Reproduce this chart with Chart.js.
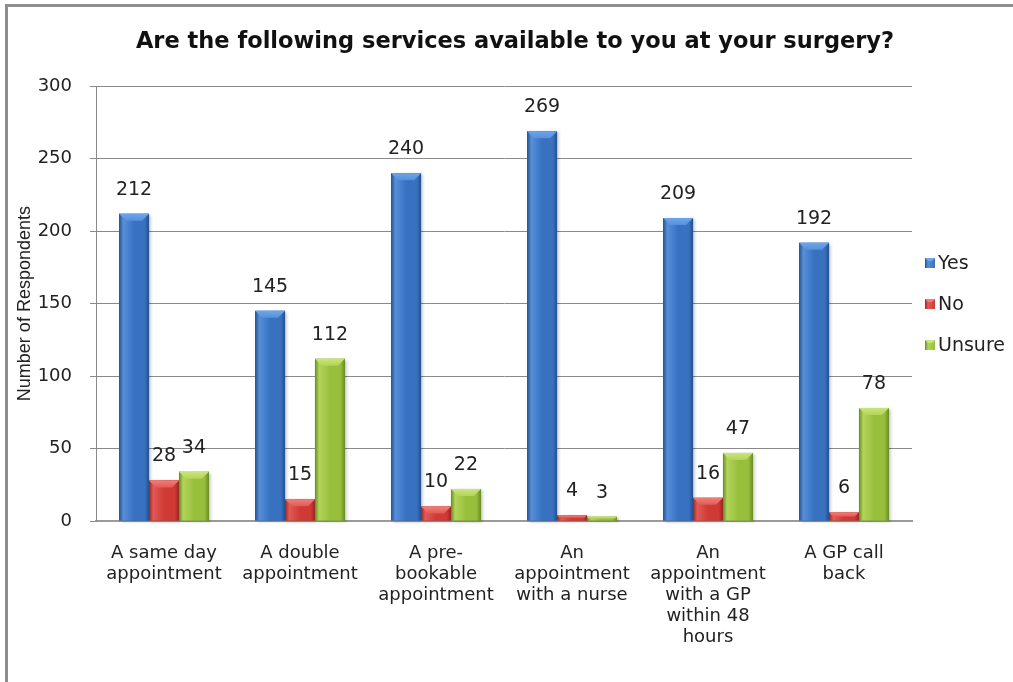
<!DOCTYPE html>
<html>
<head>
<meta charset="utf-8">
<script src="https://cdn.jsdelivr.net/npm/chart.js@4.4.1/dist/chart.umd.min.js"></script>
<style>
  html, body { margin: 0; padding: 0; background: #fff; }
  #wrap { position: relative; width: 1013px; height: 682px; }
  #frame { position: absolute; left: 5px; top: 4px; width: 1020px; height: 700px;
           border-left: 3px solid #8e8e8e; border-top: 3px solid #8e8e8e; pointer-events: none; }
  canvas { position: absolute; left: 0; top: 0; }
</style>
</head>
<body>
<div id="wrap">
  <canvas id="c" width="1013" height="682"></canvas>
  <div id="frame"></div>
</div>
<script>
const categories = [
  ["A same day", "appointment"],
  ["A double", "appointment"],
  ["A pre-", "bookable", "appointment"],
  ["An", "appointment", "with a nurse"],
  ["An", "appointment", "with a GP", "within 48", "hours"],
  ["A GP call", "back"]
];
const yesValues    = [212, 145, 240, 269, 209, 192];
const noValues     = [28, 15, 10, 4, 16, 6];
const unsureValues = [34, 112, 22, 3, 47, 78];
const seriesNames  = ["Yes", "No", "Unsure"];
const yTicks = [0, 50, 100, 150, 200, 250, 300];
const chartTitle = "Are the following services available to you at your surgery?";

const palettes = [
  { base: "#3871c0", dark: "#22508f", light: "#5690da", top: "#6ea6ea" },
  { base: "#cf3a35", dark: "#9a2521", light: "#e25a55", top: "#ee7f7a" },
  { base: "#98bf3c", dark: "#688a22", light: "#b2d45a", top: "#c9e57a" }
];

const FONT = "'DejaVu Sans', sans-serif";

function bevelFill(ctx, l, t, r, b, pal) {
  const w = r - l;
  const g = ctx.createLinearGradient(l, 0, r, 0);
  g.addColorStop(0, pal.dark);
  g.addColorStop(0.14, pal.light);
  g.addColorStop(0.5, pal.base);
  g.addColorStop(0.86, pal.base);
  g.addColorStop(1, pal.dark);
  ctx.save();
  ctx.shadowColor = "rgba(0,0,0,0.25)";
  ctx.shadowOffsetX = 2;
  ctx.shadowOffsetY = 1;
  ctx.shadowBlur = 3;
  ctx.fillStyle = g;
  ctx.fillRect(l, t, w, b - t);
  ctx.restore();
  const bv = Math.min(7, (b - t) / 2, w / 2);
  if (bv > 0.5) {
    ctx.save();
    ctx.beginPath();
    ctx.moveTo(l, t); ctx.lineTo(r, t); ctx.lineTo(r - bv, t + bv); ctx.lineTo(l + bv, t + bv);
    ctx.closePath();
    const tg = ctx.createLinearGradient(0, t, 0, t + bv);
    tg.addColorStop(0, pal.top);
    tg.addColorStop(1, pal.light);
    ctx.fillStyle = tg;
    ctx.fill();
    ctx.restore();
  }
}

const bevelPlugin = {
  id: "bevel",
  afterDatasetsDraw(chart) {
    const ctx = chart.ctx;
    chart.data.datasets.forEach((ds, i) => {
      const meta = chart.getDatasetMeta(i);
      meta.data.forEach((bar, j) => {
        const p = bar.getProps(["x", "y", "base", "width"], true);
        bevelFill(ctx, p.x - p.width / 2, p.y, p.x + p.width / 2, p.base, palettes[i]);
      });
    });
    // data labels
    ctx.save();
    ctx.font = "19px " + FONT;
    ctx.fillStyle = "#222";
    ctx.textAlign = "center";
    ctx.textBaseline = "middle";
    chart.data.datasets.forEach((ds, i) => {
      const meta = chart.getDatasetMeta(i);
      meta.data.forEach((bar, j) => {
        const p = bar.getProps(["x", "y"], true);
        ctx.fillText(String(ds.data[j]), p.x, p.y - 24);
      });
    });
    ctx.restore();
  },
  afterDraw(chart) {
    const ctx = chart.ctx;
    // title
    ctx.save();
    ctx.font = "bold 22.5px " + FONT;
    ctx.fillStyle = "#111";
    ctx.textAlign = "center";
    ctx.textBaseline = "middle";
    ctx.fillText(chartTitle, 515, 42);
    ctx.restore();
    // legend
    const x0 = 925, ys = [263, 304, 345];
    ctx.save();
    ctx.font = "19px " + FONT;
    ctx.textAlign = "left";
    ctx.textBaseline = "middle";
    chart.data.datasets.forEach((ds, i) => {
      const y = ys[i];
      const pal = palettes[i];
      const g = ctx.createLinearGradient(x0, 0, x0 + 10, 0);
      g.addColorStop(0, pal.dark); g.addColorStop(0.3, pal.light); g.addColorStop(1, pal.base);
      ctx.fillStyle = g;
      ctx.fillRect(x0, y - 5, 10, 10);
      ctx.fillStyle = pal.top;
      ctx.beginPath();
      ctx.moveTo(x0, y - 5); ctx.lineTo(x0 + 10, y - 5); ctx.lineTo(x0 + 7, y - 2); ctx.lineTo(x0 + 3, y - 2);
      ctx.closePath(); ctx.fill();
      ctx.fillStyle = "#222";
      ctx.fillText(ds.label, x0 + 13, y + 1);
    });
    ctx.restore();
  }
};

new Chart(document.getElementById("c"), {
  type: "bar",
  data: {
    labels: categories,
    datasets: [
      { label: seriesNames[0], data: yesValues, backgroundColor: palettes[0].base },
      { label: seriesNames[1], data: noValues, backgroundColor: palettes[1].base },
      { label: seriesNames[2], data: unsureValues, backgroundColor: palettes[2].base }
    ]
  },
  options: {
    responsive: false,
    animation: false,
    devicePixelRatio: 1,
    layout: { padding: { left: 8, right: 101, top: 0, bottom: 0 } },
    datasets: { bar: { categoryPercentage: 0.66, barPercentage: 1.0 } },
    plugins: {
      legend: { display: false },
      tooltip: { enabled: false },
      title: {
        display: true,
        text: chartTitle,
        color: "rgba(0,0,0,0)",
        font: { family: "'Liberation Sans', Arial, sans-serif", size: 21, weight: "bold", lineHeight: 1.2 },
        padding: { top: 30, bottom: 31 }
      }
    },
    scales: {
      x: {
        grid: { display: false, drawTicks: false, tickLength: 0 },
        border: { display: true, color: "#9a9a9a", width: 2 },
        ticks: {
          color: "#222",
          font: { family: FONT, size: 18, lineHeight: 1.17 },
          padding: 22,
          maxRotation: 0,
          autoSkip: false
        },
        afterFit(scale) { scale.height = 161; }
      },
      y: {
        min: 0, max: 300,
        afterBuildTicks(scale) { scale.ticks = yTicks.map(v => ({ value: v })); },
        grid: { color: "#8a8a8a", lineWidth: 1, tickLength: 6, drawTicks: true },
        border: { display: true, color: "#8a8a8a", width: 1 },
        ticks: {
          color: "#222",
          font: { family: FONT, size: 18 },
          padding: 18
        },
        title: {
          display: true,
          text: "Number of Respondents",
          color: "#222",
          font: { family: "'Liberation Sans', Arial, sans-serif", size: 18, lineHeight: 1.2 },
          padding: { top: 6, bottom: 0 }
        },
        afterFit(scale) { scale.width = 88; }
      }
    }
  },
  plugins: [bevelPlugin]
});
</script>
</body>
</html>
